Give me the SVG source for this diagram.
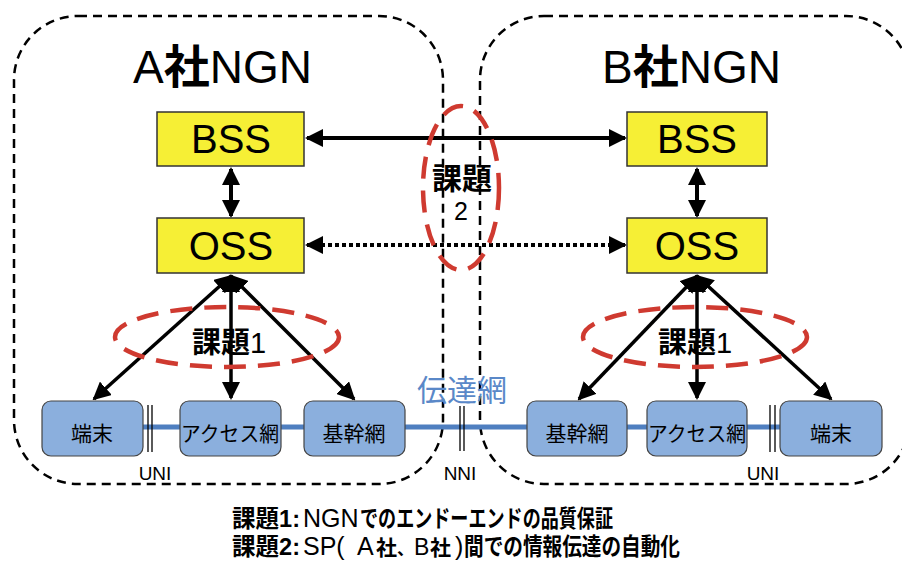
<svg xmlns="http://www.w3.org/2000/svg" width="902" height="561" viewBox="0 0 902 561">
<style>
text{font-family:"Liberation Sans","Noto Sans CJK JP",sans-serif;fill:#000}
.b{font-weight:bold}
.area{fill:none;stroke:#000;stroke-width:2.5;stroke-dasharray:9 6}
.sys rect{fill:#F6EF35;stroke:#333;stroke-width:1.5}
.sys text{font-size:40px;text-anchor:middle}
.nd rect{fill:#8BAFDD;stroke:#444;stroke-width:1.2}
.nd text{font-size:21px;text-anchor:middle}
.red{fill:none;stroke:#CF3A30;stroke-width:4.5;stroke-dasharray:22 12}
.ar{stroke:#000;fill:none;marker-start:url(#ah);marker-end:url(#ah)}
.bar{stroke:#000;stroke-width:1.3}
.lbl{font-size:19px;text-anchor:middle}
#legend text{font-size:24px}
#legend text.l{font-size:25px}
#legend tspan.c{font-size:21px;font-weight:bold}
</style>
<defs>
<marker id="ah" markerUnits="userSpaceOnUse" markerWidth="18" markerHeight="18" refX="16" refY="9" orient="auto-start-reverse">
<path d="M0,0 L18,9 L0,18 z" fill="#000"/>
</marker>
</defs>

<g id="areaA"><rect class="area" x="14" y="16" width="429" height="468" rx="64" ry="64"/>
<text x="133" y="83" font-size="46">A<tspan class="b">社</tspan>NGN</text></g>
<g id="areaB"><rect class="area" x="480" y="16" width="430" height="468" rx="64" ry="64"/>
<text x="602" y="83" font-size="46">B<tspan class="b">社</tspan>NGN</text></g>

<g id="transport">
<line x1="143" y1="427" x2="780" y2="427" stroke="#4F7FC0" stroke-width="5"/>
<text x="462" y="401" font-size="30" text-anchor="middle" style="fill:#5A88C8">伝達網</text>
</g>

<g id="connectors">
<line class="ar" x1="307" y1="138" x2="625" y2="138" stroke-width="4"/>
<line class="ar" x1="231" y1="169" x2="231" y2="216" stroke-width="4"/>
<line class="ar" x1="697" y1="169" x2="697" y2="216" stroke-width="4"/>
<line class="ar" x1="307" y1="245" x2="625" y2="245" stroke-width="4" stroke-dasharray="4 3"/>
<line class="ar" x1="231" y1="276" x2="94" y2="399" stroke-width="3.5"/>
<line class="ar" x1="231" y1="276" x2="231" y2="398" stroke-width="3.5"/>
<line class="ar" x1="231" y1="276" x2="354" y2="399" stroke-width="3.5"/>
<line class="ar" x1="697" y1="276" x2="579" y2="399" stroke-width="3.5"/>
<line class="ar" x1="697" y1="276" x2="697" y2="398" stroke-width="3.5"/>
<line class="ar" x1="697" y1="276" x2="831" y2="399" stroke-width="3.5"/>
</g>

<g id="bssA" class="sys"><rect x="157" y="112" width="147" height="54"/><text x="231" y="153">BSS</text></g>
<g id="ossA" class="sys"><rect x="157" y="218" width="147" height="55"/><text x="231" y="260">OSS</text></g>
<g id="bssB" class="sys"><rect x="627" y="112" width="140" height="54"/><text x="697" y="153">BSS</text></g>
<g id="ossB" class="sys"><rect x="627" y="218" width="140" height="55"/><text x="697" y="260">OSS</text></g>

<g id="termA" class="nd"><rect x="42" y="401" width="101" height="55" rx="9"/><text x="92" y="441">端末</text></g>
<g id="accA" class="nd"><rect x="180" y="401" width="101" height="55" rx="9"/><text x="230" y="441" textLength="98" lengthAdjust="spacingAndGlyphs">アクセス網</text></g>
<g id="coreA" class="nd"><rect x="304" y="401" width="101" height="55" rx="9"/><text x="354" y="441">基幹網</text></g>
<g id="coreB" class="nd"><rect x="527" y="401" width="100" height="55" rx="9"/><text x="577" y="441">基幹網</text></g>
<g id="accB" class="nd"><rect x="647" y="401" width="100" height="55" rx="9"/><text x="697" y="441" textLength="98" lengthAdjust="spacingAndGlyphs">アクセス網</text></g>
<g id="termB" class="nd"><rect x="780" y="401" width="102" height="55" rx="9"/><text x="831" y="441">端末</text></g>

<g id="interfaces">
<line class="bar" x1="148" y1="405" x2="148" y2="452"/><line class="bar" x1="152" y1="405" x2="152" y2="452"/>
<line class="bar" x1="460" y1="406" x2="460" y2="451"/><line class="bar" x1="464" y1="406" x2="464" y2="451"/>
<line class="bar" x1="770" y1="405" x2="770" y2="452"/><line class="bar" x1="775" y1="405" x2="775" y2="452"/>
<text class="lbl" x="155" y="480">UNI</text>
<text class="lbl" x="460" y="480">NNI</text>
<text class="lbl" x="763" y="480">UNI</text>
</g>

<g id="issue1A"><ellipse class="red" cx="227" cy="337" rx="112" ry="30"/>
<text x="192" y="353" font-size="29"><tspan class="b">課題</tspan>1</text></g>
<g id="issue1B"><ellipse class="red" cx="695" cy="337" rx="112" ry="30"/>
<text x="658" y="353" font-size="29"><tspan class="b">課題</tspan>1</text></g>
<g id="issue2"><ellipse class="red" cx="461" cy="188" rx="38" ry="82"/>
<text x="462" y="189" font-size="30" text-anchor="middle" class="b">課題</text>
<text x="461" y="220" font-size="25" text-anchor="middle">2</text></g>

<g id="legend">
<text class="b" x="232" y="527" textLength="68" lengthAdjust="spacingAndGlyphs">課題1:</text>
<text class="l" x="303" y="527">NGN</text>
<text class="b" x="360" y="527" textLength="253" lengthAdjust="spacingAndGlyphs">でのエンドーエンドの品質保証</text>
<text class="b" x="232" y="555" textLength="68" lengthAdjust="spacingAndGlyphs">課題2:</text>
<text class="l" x="303" y="555">SP(<tspan x="357">A</tspan><tspan class="c" x="376">社</tspan><tspan class="c" x="397" style="font-size:17px">、</tspan><tspan x="414" style="font-size:23px">B</tspan><tspan class="c" x="430">社</tspan><tspan x="455">)</tspan></text>
<text class="b" x="464" y="555" textLength="216" lengthAdjust="spacingAndGlyphs">間での情報伝達の自動化</text>
</g>
</svg>
